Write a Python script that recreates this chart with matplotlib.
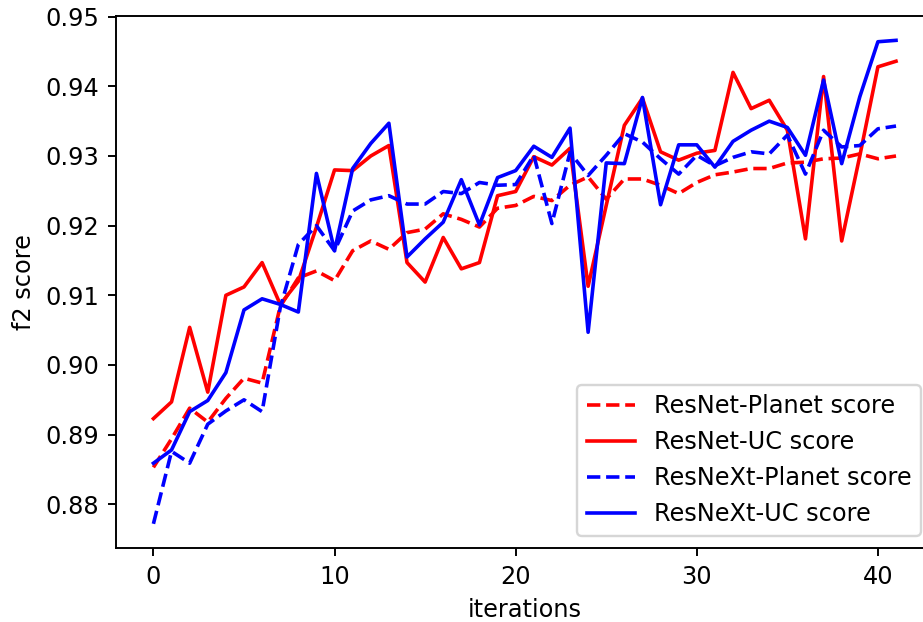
import matplotlib
matplotlib.use('Agg')
import matplotlib.pyplot as plt
import numpy as np

# f2 scores per iteration
resnet_planet = [0.8853, 0.8894, 0.8938, 0.8918, 0.8952, 0.8981, 0.8974, 0.9084, 0.9125, 0.9135,
                 0.9121, 0.9164, 0.9178, 0.9166, 0.9190, 0.9195, 0.9217, 0.9209, 0.9198, 0.9225,
                 0.9229, 0.9242, 0.9236, 0.9258, 0.9270, 0.9238, 0.9267, 0.9267, 0.9258, 0.9246,
                 0.9262, 0.9273, 0.9277, 0.9282, 0.9282, 0.9290, 0.9291, 0.9296, 0.9297, 0.9303,
                 0.9296, 0.9300]
resnet_uc = [0.8923, 0.8947, 0.9054, 0.8961, 0.9100, 0.9112, 0.9147, 0.9087, 0.9120, 0.9198,
             0.9280, 0.9279, 0.9300, 0.9315, 0.9147, 0.9119, 0.9183, 0.9138, 0.9147, 0.9243,
             0.9249, 0.9299, 0.9287, 0.9311, 0.9113, 0.9229, 0.9344, 0.9383, 0.9306, 0.9294,
             0.9304, 0.9308, 0.9420, 0.9368, 0.9380, 0.9337, 0.9181, 0.9414, 0.9178, 0.9300,
             0.9428, 0.9436]
resnext_planet = [0.8772, 0.8876, 0.8859, 0.8915, 0.8934, 0.8950, 0.8933, 0.9082, 0.9173, 0.9200,
                  0.9164, 0.9221, 0.9237, 0.9243, 0.9231, 0.9231, 0.9249, 0.9246, 0.9262, 0.9258,
                  0.9259, 0.9301, 0.9203, 0.9305, 0.9272, 0.9301, 0.9332, 0.9320, 0.9296, 0.9274,
                  0.9301, 0.9286, 0.9298, 0.9306, 0.9303, 0.9330, 0.9274, 0.9337, 0.9313, 0.9315,
                  0.9339, 0.9343]
resnext_uc = [0.8859, 0.8878, 0.8933, 0.8949, 0.8989, 0.9079, 0.9095, 0.9087, 0.9076, 0.9275,
              0.9164, 0.9282, 0.9318, 0.9347, 0.9155, 0.9181, 0.9205, 0.9266, 0.9201, 0.9269,
              0.9279, 0.9314, 0.9298, 0.9340, 0.9047, 0.9290, 0.9289, 0.9384, 0.9230, 0.9316,
              0.9316, 0.9284, 0.9321, 0.9337, 0.9350, 0.9341, 0.9301, 0.9409, 0.9289, 0.9385,
              0.9464, 0.9466]

iterations = np.arange(len(resnet_uc))

dpi = 173
fig = plt.figure(figsize=(923 / dpi, 622 / dpi), dpi=dpi)
# the original is cropped on the right, so the axes run slightly past the edge
plt.subplots_adjust(left=0.126, right=1.011, bottom=0.119, top=0.974)

plt.plot(iterations, resnet_planet, 'r--', label='ResNet-Planet score')
plt.plot(iterations, resnet_uc, 'r-', label='ResNet-UC score')
plt.plot(iterations, resnext_planet, 'b--', label='ResNeXt-Planet score')
plt.plot(iterations, resnext_uc, 'b-', label='ResNeXt-UC score')

plt.xlabel('iterations')
plt.ylabel('f2 score')
plt.legend(loc='lower right')

plt.savefig('out.png', dpi=dpi)
